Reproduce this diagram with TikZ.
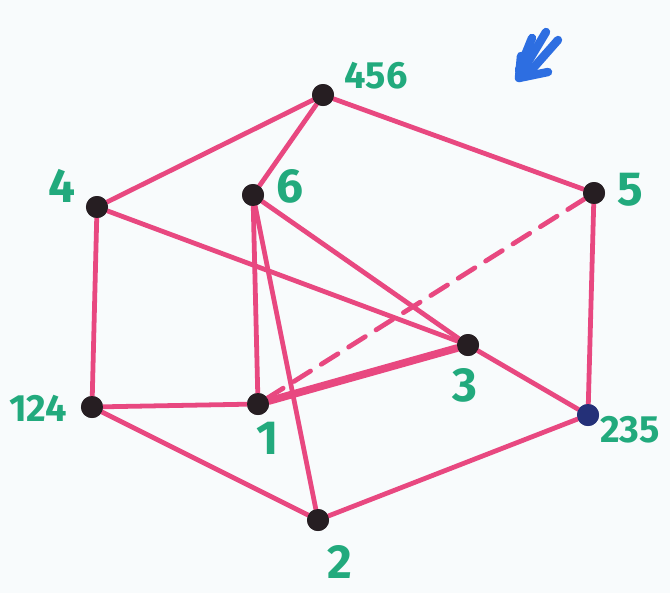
\documentclass[tikz,border=0pt]{standalone}
\usepackage{fontspec}
\setmainfont{Fira Sans}
\usetikzlibrary{arrows.meta}
\definecolor{edgepink}{RGB}{232,72,128}
\definecolor{labgreen}{RGB}{34,170,125}
\definecolor{dotdark}{RGB}{38,30,34}
\definecolor{dotblue}{RGB}{36,48,120}
\definecolor{markblue}{RGB}{45,110,225}
\definecolor{paper}{RGB}{248,251,252}
\begin{document}
\begin{tikzpicture}[
  x=0.025cm, y=-0.025cm,
  vert/.style={circle, fill=dotdark, inner sep=0pt, minimum size=0.55cm},
  edge/.style={draw=edgepink, line width=3.4pt, line cap=round},
  fat/.style={edge, line width=5.5pt},
  hidden/.style={edge, dash pattern=on 14pt off 9pt},
  lab/.style={text=labgreen, font=\fontsize{34}{34}\selectfont\bfseries},
  slab/.style={text=labgreen, font=\fontsize{27}{27}\selectfont\bfseries}
]
\fill[paper] (0,0) rectangle (670,593);
\useasboundingbox (0,0) rectangle (670,593);

% vertices
\node[vert] (v456) at (323,95) {};
\node[vert] (v4) at (97,207) {};
\node[vert] (v6) at (253,195) {};
\node[vert] (v5) at (594,193) {};
\node[vert] (v3) at (468,345) {};
\node[vert] (v124) at (92,407) {};
\node[vert] (v1) at (258,404) {};
\node[vert, fill=dotblue] (v235) at (588,415) {};
\node[vert] (v2) at (318,520) {};

% edges
\draw[hidden] (v5) -- (v1);
\draw[edge] (v456) -- (v4);
\draw[edge] (v456) -- (v6);
\draw[edge] (v456) -- (v5);
\draw[edge] (v4) -- (v124);
\draw[edge] (v4) -- (v3);
\draw[edge] (v6) -- (v1);
\draw[edge] (v6) -- (v2);
\draw[edge] (v6) -- (v3);
\draw[edge] (v5) -- (v235);
\draw[fat] (v1) -- (v3);
\draw[edge] (v3) -- (v235);
\draw[edge] (v124) -- (v1);
\draw[edge] (v124) -- (v2);
\draw[edge] (v2) -- (v235);

% redraw dots on top
\foreach \v in {v456,v4,v6,v5,v3,v124,v1,v2}
  \fill[dotdark] (\v) circle (0.275cm);
\fill[dotblue] (v235) circle (0.275cm);

% labels
\node[slab] (t456) at (376,76) {456};
\node[lab] (t4) at (62,186) {4};
\node[lab] (t6) at (290,186) {6};
\node[lab] (t5) at (630,190) {5};
\node[lab] (t3) at (465,385) {3};
\node[slab] (t124) at (38,408) {124};
\node[lab] (t1) at (268,438) {1};
\node[slab] (t235) at (630,430) {235};
\node[lab] (t2) at (340,562) {2};

% blue mark
\begin{scope}[draw=markblue, line width=6pt, line cap=round]
\draw (546,32) -- (522,72);
\draw (558,40) -- (528,74);
\draw (532,38) -- (519,70);
\draw (519,78) -- (521,56);
\draw (519,78) -- (548,72);
\end{scope}
\end{tikzpicture}
\end{document}
